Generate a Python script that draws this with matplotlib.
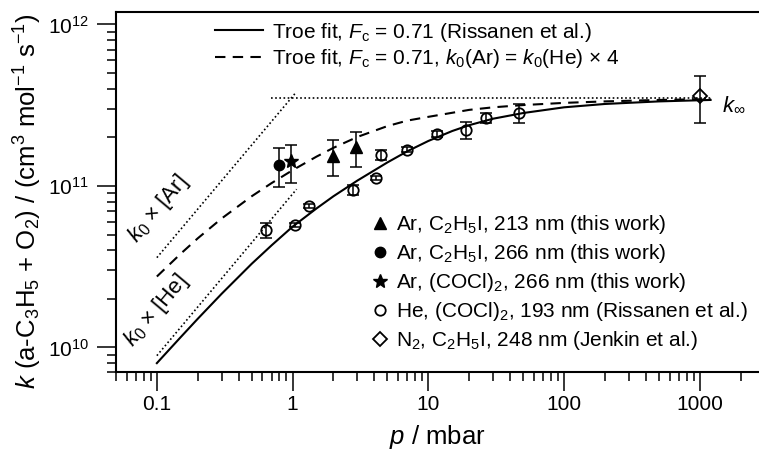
import numpy as np
import matplotlib
matplotlib.use('Agg')
import matplotlib.pyplot as plt
from matplotlib.ticker import LogLocator, NullFormatter, FixedLocator, FixedFormatter
from matplotlib.lines import Line2D

# ---------------- data ----------------
# Troe fits
p_fit = [0.1, 0.15, 0.2, 0.3, 0.5, 0.7, 1, 1.5, 2, 3, 5, 7, 10, 15, 20, 30, 50, 100, 200, 500, 1200]
k_fit_he = [8.0e9, 1.16e10, 1.505e10, 2.15e10, 3.3e10, 4.29e10, 5.6e10, 7.26e10, 8.64e10, 1.08e11,
            1.40e11, 1.64e11, 1.90e11, 2.19e11, 2.38e11, 2.61e11, 2.83e11, 3.07e11, 3.22e11, 3.34e11, 3.41e11]
k_fit_ar = [2.75e10, 3.81e10, 4.74e10, 6.29e10, 8.64e10, 1.042e11, 1.253e11, 1.52e11, 1.723e11, 2.012e11,
            2.35e11, 2.54e11, 2.68e11, 2.84e11, 2.96e11, 3.07e11, 3.17e11, 3.27e11, 3.34e11, 3.41e11, 3.45e11]

# limiting lines
p_kinf = [0.69, 1220]
k_kinf = [3.5e11, 3.5e11]
p_k0ar = [0.1, 1.06]
k_k0ar = [3.6e10, 3.8e11]
p_k0he = [0.1, 1.07]
k_k0he = [8.9e9, 9.55e10]

# measurements
p_ar213 = [1.99, 2.92]
k_ar213 = [1.54e11, 1.736e11]
e_ar213 = [0.38e11, 0.43e11]

p_ar266 = [0.79]
k_ar266 = [1.356e11]
e_ar266 = [0.37e11]

p_arcocl = [0.98]
k_arcocl = [1.42e11]
e_arcocl = [0.37e11]

p_he = [0.64, 1.05, 1.31, 2.79, 4.10, 4.47, 6.91, 11.6, 18.8, 26.8, 46.7]
k_he = [5.34e10, 5.76e10, 7.52e10, 9.45e10, 1.12e11, 1.557e11, 1.672e11, 2.10e11, 2.23e11, 2.64e11, 2.82e11]
e_he = [0.6e10, 0.15e10, 0.2e10, 0.7e10, 0.3e10, 0.11e11, 0.06e11, 0.1e11, 0.27e11, 0.2e11, 0.38e11]

p_n2 = [1000]
k_n2 = [3.63e11]
e_n2 = [1.18e11]

xticks = [0.1, 1, 10, 100, 1000]
xticklabels = ['0.1', '1', '10', '100', '1000']
yticks = [1e10, 1e11, 1e12]
yticklabels = [r'$10^{10}$', r'$10^{11}$', r'$10^{12}$']

# ---------------- style ----------------
plt.rcParams['font.family'] = ['Liberation Sans', 'DejaVu Sans']
plt.rcParams['mathtext.fontset'] = 'custom'
plt.rcParams['mathtext.rm'] = 'Liberation Sans'
plt.rcParams['mathtext.it'] = 'Liberation Sans:italic'
plt.rcParams['mathtext.bf'] = 'Liberation Sans:bold'

fig = plt.figure(figsize=(7.59, 4.55), dpi=100)
ax = fig.add_axes([0.15283, 0.18132, 0.85455, 0.79297])
ax.set_xscale('log')
ax.set_yscale('log')
ax.set_xlim(0.05, 3000)
ax.set_ylim(7e9, 1.2e12)

for s in ['left', 'bottom', 'top']:
    ax.spines[s].set_linewidth(1.5)
ax.spines['right'].set_visible(False)

ax.xaxis.set_major_locator(FixedLocator(xticks))
ax.xaxis.set_major_formatter(FixedFormatter(xticklabels))
ax.yaxis.set_major_locator(FixedLocator(yticks))
ax.yaxis.set_major_formatter(FixedFormatter(yticklabels))
ax.xaxis.set_minor_locator(LogLocator(base=10, subs=np.arange(2, 10), numticks=100))
ax.yaxis.set_minor_locator(LogLocator(base=10, subs=np.arange(2, 10), numticks=100))
ax.xaxis.set_minor_formatter(NullFormatter())
ax.yaxis.set_minor_formatter(NullFormatter())
ax.tick_params(which='both', direction='out', top=False, right=False, width=1.1, labelsize=15)
ax.tick_params(which='major', length=13.5)
ax.tick_params(which='minor', length=6.2)
ax.tick_params(axis='x', which='major', pad=3)
ax.tick_params(axis='y', which='major', pad=6)

# lines
ax.plot(p_fit, k_fit_he, color='black', lw=1.5, zorder=2)
ax.plot(p_fit, k_fit_ar, color='black', lw=1.5, linestyle=(0, (5, 3.5)), zorder=2)
dot = (0, (1, 1.5))
ax.plot(p_kinf, k_kinf, color='black', lw=1.2, linestyle=dot, zorder=2)
ax.plot(p_k0ar, k_k0ar, color='black', lw=1.2, linestyle=dot, zorder=2)
ax.plot(p_k0he, k_k0he, color='black', lw=1.2, linestyle=dot, zorder=2)

# error bars
eb = dict(fmt='none', ecolor='black', elinewidth=1.1, capsize=4, capthick=1.1, zorder=3)
ax.errorbar(p_ar213, k_ar213, yerr=e_ar213, **eb)
ax.errorbar(p_ar266, k_ar266, yerr=e_ar266, **eb)
ax.errorbar(p_arcocl, k_arcocl, yerr=e_arcocl, **eb)
ax.errorbar(p_he, k_he, yerr=e_he, **eb)
ax.errorbar(p_n2, k_n2, yerr=e_n2, **eb)

# markers
h1, = ax.plot(p_ar213, k_ar213, ls='none', marker='^', ms=8.5, color='black', zorder=4,
              label=r'Ar, C$_2$H$_5$I, 213 nm (this work)')
h2, = ax.plot(p_ar266, k_ar266, ls='none', marker='o', ms=7.5, color='black', zorder=4,
              label=r'Ar, C$_2$H$_5$I, 266 nm (this work)')
h3, = ax.plot(p_arcocl, k_arcocl, ls='none', marker='*', ms=10.5, color='black', zorder=4,
              label=r'Ar, (COCl)$_2$, 266 nm (this work)')
h4, = ax.plot(p_he, k_he, ls='none', marker='o', ms=7.5, mfc='none', mec='black', mew=1.3, zorder=4,
              label=r'He, (COCl)$_2$, 193 nm (Rissanen et al.)')
h5, = ax.plot(p_n2, k_n2, ls='none', marker='D', ms=7.5, mfc='none', mec='black', mew=1.3, zorder=4,
              label=r'N$_2$, C$_2$H$_5$I, 248 nm (Jenkin et al.)')

# legends
l1 = Line2D([], [], color='black', lw=1.5)
l2 = Line2D([], [], color='black', lw=1.5, linestyle=(0, (5, 3.5)))
leg1 = ax.legend([l1, l2], [r'Troe fit, $F_\mathrm{c}$ = 0.71 (Rissanen et al.)',
                            r'Troe fit, $F_\mathrm{c}$ = 0.71, $k_0$(Ar) = $k_0$(He) × 4'],
                 loc='upper left', bbox_to_anchor=(0.1526, 0.975), frameon=False, fontsize=15,
                 handlelength=2.3, handletextpad=0.45, labelspacing=0.15, borderpad=0, borderaxespad=0)
ax.add_artist(leg1)
ax.legend(handles=[h1, h2, h3, h4, h5], loc='upper left', bbox_to_anchor=(0.394, 0.442),
          frameon=False, fontsize=15, handlelength=0.8, handletextpad=0.37, labelspacing=0.29,
          borderpad=0, borderaxespad=0)

# annotations
ax.text(0.102, 7.2e10, r'$k_0$ × [Ar]', rotation=50, rotation_mode='anchor',
        ha='center', va='center', fontsize=16)
ax.text(0.1, 1.7e10, r'$k_0$ × [He]', rotation=50, rotation_mode='anchor',
        ha='center', va='center', fontsize=16)
ax.text(1450, 3.2e11, r'$k_\infty$', ha='left', va='center', fontsize=16)

# axis labels
ax.set_xlabel(r'$p$ / mbar', fontsize=18.5, va='center')
ax.xaxis.set_label_coords(0.4949, -0.1788)
ax.set_ylabel(r'$k$ (a-C$_3$H$_5$ + O$_2$) / (cm$^3$ mol$^{-1}$ s$^{-1}$)', fontsize=18.5, va='center')
ax.yaxis.set_label_coords(-0.1356, 0.4753)

fig.savefig('out.png', dpi=100)
